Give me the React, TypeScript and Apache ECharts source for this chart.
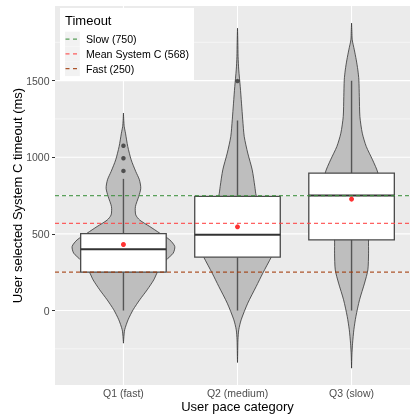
import React, { useEffect, useRef } from "react";
import * as echarts from "echarts";

const categories = ["Q1 (fast)", "Q2 (medium)", "Q3 (slow)"];
const yTicks = [0, 500, 1000, 1500];
const yMinorGrid = [-250, 250, 750, 1250, 1750];
const xTitle = "User pace category";
const yTitle = "User selected System C timeout (ms)";

// violin outlines: [value in ms, half width in category units]
const violinQ1 = [
  [1288, 0], [1240, 0.003], [1200, 0.007], [1157, 0.018], [1070, 0.038], [983, 0.068],
  [907, 0.108], [853, 0.14], [798, 0.152], [744, 0.134], [678, 0.105], [624, 0.108],
  [590, 0.143], [548, 0.231], [505, 0.318], [461, 0.406], [418, 0.45], [374, 0.436],
  [331, 0.377], [250, 0.298], [200, 0.266], [135, 0.208], [70, 0.143], [5, 0.085],
  [-60, 0.041], [-125, 0.011], [-170, 0.004], [-213, 0],
];
const violinQ2 = [
  [1842, 0], [1750, 0.003], [1657, 0.005], [1570, 0.011], [1461, 0.024], [1353, 0.035],
  [1244, 0.046], [1135, 0.059], [1027, 0.09], [918, 0.129], [809, 0.152], [750, 0.164],
  [650, 0.22], [550, 0.29], [450, 0.33], [380, 0.316], [348, 0.296], [244, 0.222],
  [157, 0.164], [48, 0.09], [-61, 0.032], [-126, 0.011], [-191, 0.004], [-260, 0.002], [-339, 0],
];
const violinQ3 = [
  [1875, 0], [1820, 0.003], [1766, 0.006], [1701, 0.024], [1636, 0.041], [1570, 0.055],
  [1505, 0.064], [1396, 0.068], [1266, 0.073], [1157, 0.094], [1070, 0.129], [983, 0.184],
  [897, 0.231], [800, 0.237], [700, 0.219], [600, 0.184], [520, 0.158], [461, 0.149],
  [374, 0.149], [265, 0.143], [179, 0.114], [70, 0.07], [-39, 0.038], [-126, 0.02],
  [-213, 0.009], [-290, 0.003], [-376, 0],
];

// box stats: [lower whisker, Q1, median, Q3, upper whisker]
const boxQ1 = [0, 250, 400, 502, 859];
const boxQ2 = [0, 348, 494, 745, 1240];
const boxQ3 = [0, 461, 750, 896, 1499];
const means = [431, 546, 727];
const outliersQ1 = [911, 994, 1075];
const outliersQ2 = [1497];
const outliersQ3: number[] = [];

const timeoutNames = ["Slow (750)", "Mean System C (568)", "Fast (250)"];
const timeoutValues = [750, 568, 250];

const timeoutColors = ["#3E9040", "#FF4545", "#A03A08"];
const FONT = '"Liberation Sans", Arial, Helvetica, sans-serif';

export default function App() {
  const ref = useRef<HTMLDivElement>(null);
  useEffect(() => {
    const chart = echarts.init(ref.current!, null, { renderer: "svg" });
    const violins = [violinQ1, violinQ2, violinQ3];
    const boxes = [boxQ1, boxQ2, boxQ3];
    const outliers = [outliersQ1, outliersQ2, outliersQ3];

    const gridData: number[][] = [];
    yTicks.forEach((v) => gridData.push([1, v, 0]));
    yMinorGrid.forEach((v) => gridData.push([1, v, 1]));
    categories.forEach((_, i) => gridData.push([i + 1, 0, 2]));

    const outlierData: number[][] = [];
    outliers.forEach((arr, i) => arr.forEach((v) => outlierData.push([i + 1, v])));

    const Z = 50;
    const option: any = {
      animation: false,
      textStyle: { fontFamily: FONT },
      grid: {
        left: 55, top: 6, width: 365, height: 379,
        show: true, backgroundColor: "#EBEBEB", borderWidth: 0,
        outerBoundsMode: "none", containLabel: false,
      },
      xAxis: {
        type: "value", min: 0.4, max: 3.6,
        splitLine: { show: false },
        axisLine: { show: false },
        axisTick: { show: true, customValues: [1, 2, 3], length: 3, lineStyle: { color: "#333333", width: 1 } },
        axisLabel: {
          customValues: [1, 2, 3], margin: 2.5, color: "#4D4D4D", fontSize: 10.5, fontFamily: FONT,
          formatter: (v: number) => categories[Math.round(v) - 1] ?? "",
        },
      },
      yAxis: {
        type: "value", min: -486, max: 1987,
        splitLine: { show: false },
        axisLine: { show: false },
        axisTick: { show: true, customValues: yTicks, length: 3, lineStyle: { color: "#333333", width: 1 } },
        axisLabel: {
          customValues: yTicks, margin: 5.5, color: "#4D4D4D", fontSize: 10.5, fontFamily: FONT,
          formatter: (v: number) => String(v),
        },
      },
      series: [
        {
          type: "custom", z: 1, silent: true, data: gridData,
          renderItem: (params: any, api: any) => {
            const cs = params.coordSys;
            const kind = api.value(2);
            if (kind === 2) {
              const x = api.coord([api.value(0), 0])[0];
              return { type: "line", shape: { x1: x, y1: cs.y, x2: x, y2: cs.y + cs.height }, style: { stroke: "#FFFFFF", lineWidth: 1.07 } };
            }
            const y = api.coord([1, api.value(1)])[1];
            return {
              type: "line", shape: { x1: cs.x, y1: y, x2: cs.x + cs.width, y2: y },
              style: { stroke: "#FFFFFF", lineWidth: kind === 0 ? 1.07 : 0.53 },
            };
          },
        },
        {
          type: "custom", z: 2, silent: true, data: [[1, 0], [2, 0], [3, 0]],
          renderItem: (params: any, api: any) => {
            const cx = api.value(0);
            const prof = violins[cx - 1];
            const pts: number[][] = [];
            for (const [v, w] of prof) pts.push(api.coord([cx - w, v]));
            for (let k = prof.length - 1; k >= 0; k--) pts.push(api.coord([cx + prof[k][1], prof[k][0]]));
            return {
              type: "polygon", shape: { points: pts, smooth: 0.25 },
              style: { fill: "#BEBEBE", stroke: "#333333", lineWidth: 0.8 },
            };
          },
        },
        {
          type: "custom", z: 3, silent: true, data: [[1, 0], [2, 0], [3, 0]],
          renderItem: (params: any, api: any) => {
            const cx = api.value(0);
            const b = boxes[cx - 1];
            const hw = 0.375;
            const pLow = api.coord([cx, b[0]]);
            const pQ1 = api.coord([cx, b[1]]);
            const pMed = api.coord([cx, b[2]]);
            const pQ3 = api.coord([cx, b[3]]);
            const pHigh = api.coord([cx, b[4]]);
            const xl = api.coord([cx - hw, 0])[0];
            const xr = api.coord([cx + hw, 0])[0];
            const wStyle = { stroke: "#555555", lineWidth: 1.4 };
            return {
              type: "group",
              children: [
                { type: "line", shape: { x1: pLow[0], y1: pLow[1], x2: pQ1[0], y2: pQ1[1] }, style: wStyle },
                { type: "line", shape: { x1: pQ3[0], y1: pQ3[1], x2: pHigh[0], y2: pHigh[1] }, style: wStyle },
                {
                  type: "rect", shape: { x: xl, y: pQ3[1], width: xr - xl, height: pQ1[1] - pQ3[1] },
                  style: { fill: "#FFFFFF", stroke: "#4A4A4A", lineWidth: 1.3 },
                },
                { type: "line", shape: { x1: xl, y1: pMed[1], x2: xr, y2: pMed[1] }, style: { stroke: "#333333", lineWidth: 2 } },
              ],
            };
          },
        },
        {
          type: "scatter", z: 4, silent: true, data: outlierData, symbol: "circle", symbolSize: 4.5,
          itemStyle: { color: "#333333" },
        },
        {
          type: "custom", z: 5, silent: true, data: timeoutValues.map((v, i) => [1, v, i]),
          renderItem: (params: any, api: any) => {
            const cs = params.coordSys;
            const y = api.coord([1, api.value(1)])[1];
            return {
              type: "line", shape: { x1: cs.x, y1: y, x2: cs.x + cs.width, y2: y },
              style: { stroke: timeoutColors[api.value(2)], lineWidth: 1.2, lineDash: [4, 3], opacity: 0.85 },
            };
          },
        },
        {
          type: "scatter", z: 6, silent: true, data: means.map((v, i) => [i + 1, v]),
          symbol: "circle", symbolSize: 5, itemStyle: { color: "#FF0000" },
        },
      ],
      graphic: [
        {
          type: "text", z: Z, x: 237.5, y: 406.5,
          style: { text: xTitle, fontSize: 13, fontFamily: FONT, fill: "#000", align: "center", verticalAlign: "middle" },
        },
        {
          type: "text", z: Z, x: 17.3, y: 195.5, rotation: Math.PI / 2,
          style: { text: yTitle, fontSize: 13, fontFamily: FONT, fill: "#000", align: "center", verticalAlign: "middle" },
        },
        { type: "rect", z: Z, shape: { x: 60, y: 8, width: 134, height: 72 }, style: { fill: "#FFFFFF" } },
        {
          type: "text", z: Z, x: 65, y: 20,
          style: { text: "Timeout", fontSize: 13, fontFamily: FONT, fill: "#000", verticalAlign: "middle" },
        },
        ...timeoutNames.flatMap((name, i) => [
          { type: "rect", z: Z, shape: { x: 65, y: 31.7 + i * 14.8, width: 14.8, height: 14.8 }, style: { fill: "#F2F2F2" } },
          {
            type: "line", z: Z + 1,
            shape: { x1: 65.5, y1: 39.1 + i * 14.8, x2: 79.3, y2: 39.1 + i * 14.8 },
            style: { stroke: timeoutColors[i], lineWidth: 1.2, lineDash: [4, 3.5], opacity: 0.85 },
          },
          {
            type: "text", z: Z + 1, x: 86, y: 39.1 + i * 14.8,
            style: { text: name, fontSize: 10.6, fontFamily: FONT, fill: "#000", verticalAlign: "middle" },
          },
        ]),
      ],
    };
    chart.setOption(option);
    return () => chart.dispose();
  }, []);
  return <div ref={ref} style={{ position: "fixed", left: 0, top: 0, width: 410, height: 416 }} />;
}
